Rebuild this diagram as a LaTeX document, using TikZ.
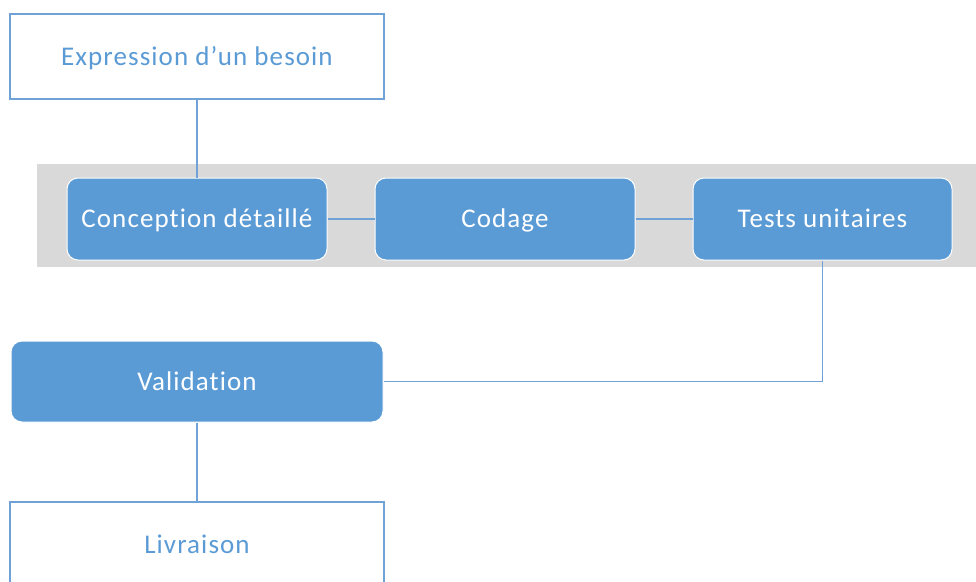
\documentclass[tikz,border=0pt]{standalone}
\usepackage{fontspec}
\setmainfont[Ligatures=NoCommon, LetterSpace=4]{Carlito}
\definecolor{stepblue}{HTML}{5B9BD5}
\definecolor{linkblue}{HTML}{6FA3D8}
\definecolor{bandgray}{HTML}{D9D9D9}
\begin{document}
\begin{tikzpicture}[x=1pt,y=-1pt,
  font=\fontsize{27}{32}\selectfont,
  every node/.style={text height=17.4pt, text depth=0pt},
  outlinebox/.style={draw=linkblue, line width=1.2pt, fill=white, text=stepblue,
    minimum width=374pt, minimum height=85pt, inner sep=0pt},
  filledbox/.style={draw=white, line width=1pt, fill=stepblue, text=white,
    rounded corners=11pt, minimum height=82pt, inner sep=0pt},
  link/.style={draw=linkblue, line width=1.2pt}]
  \useasboundingbox (0,0) rectangle (976,581);
  \clip (0,0) rectangle (976,581);
  % grey band behind the three development steps
  \fill[bandgray] (37,164) rectangle (980,267);
  % boxes
  \node[outlinebox] (besoin) at (197,56.5) {Expression d’un besoin};
  \node[filledbox, minimum width=260pt] (conception) at (197,219) {Conception détaillé};
  \node[filledbox, minimum width=260pt] (codage) at (505,219) {Codage};
  \node[filledbox, minimum width=259pt] (tests) at (822.5,219) {Tests unitaires};
  \node[filledbox, minimum width=372pt, minimum height=81pt] (validation) at (197,381.5) {Validation};
  \node[outlinebox] (livraison) at (197,544.5) {Livraison};
  % connectors
  \draw[link] (besoin.south) -- (conception.north);
  \draw[link] (conception.east) -- (codage.west);
  \draw[link] (codage.east) -- (tests.west);
  \coordinate (corner) at (tests.south |- validation.east);
  \draw[link] (tests.south) -- (corner) -- (validation.east);
  \draw[link] (validation.south) -- (livraison.north);
\end{tikzpicture}
\end{document}
